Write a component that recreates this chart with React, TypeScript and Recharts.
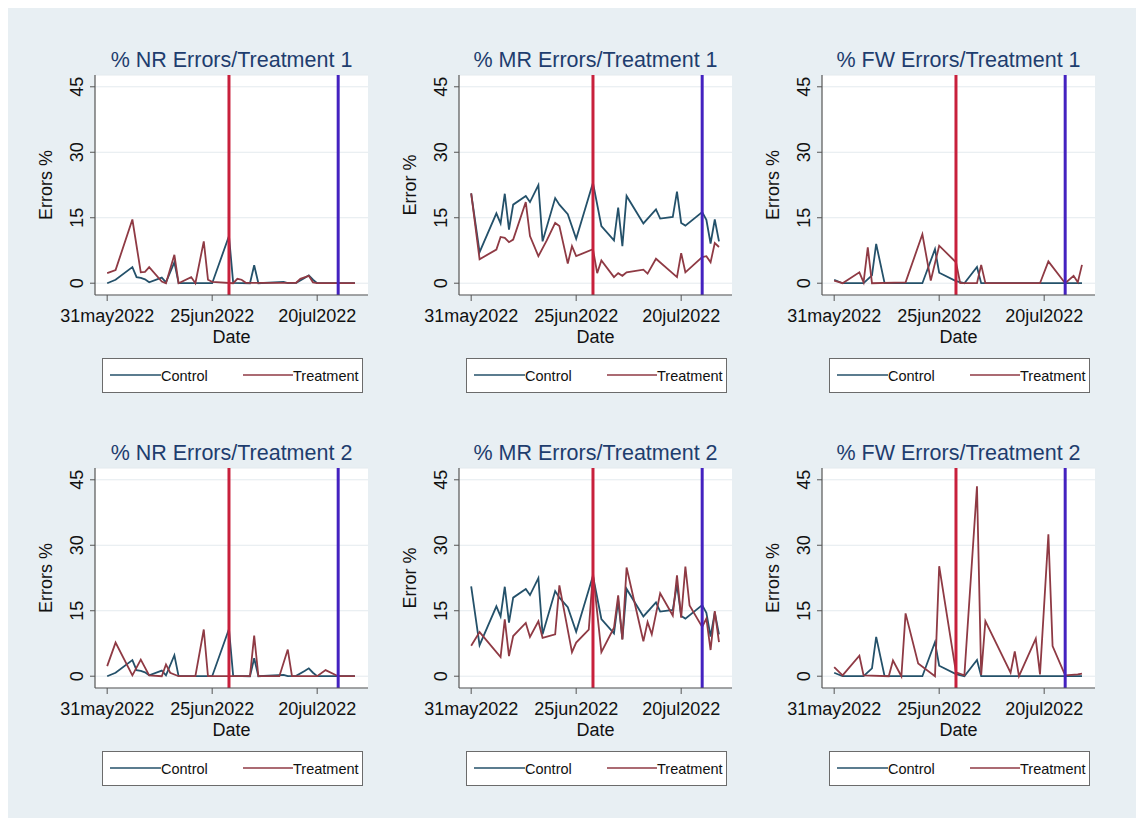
import React from 'react';
import { CartesianGrid, Legend, Line, LineChart, ReferenceLine, XAxis, YAxis } from 'recharts';

// days counted from 31may2022
const dateTicks = [0, 25, 50];
const dateLabels = ['31may2022', '25jun2022', '20jul2022'];
const errorTicks = [0, 15, 30, 45];
const treatmentStart = 29; // 29jun2022
const treatmentEnd = 55; // 25jul2022

// NR errors
const nrControlDays = [0, 2, 6, 7, 8, 9, 10, 13, 14, 16, 17, 25, 29, 30, 34, 35, 36, 42, 43, 45, 47, 48, 49, 50, 59];
const nrControlValues = [0, 0.8, 3.7, 1.4, 1.2, 0.9, 0.2, 1.3, 0.2, 4.8, 0, 0, 10.8, 0.1, 0, 4.1, 0, 0.3, 0, 0.1, 1.2, 1.8, 0.8, 0, 0];
const nrTreat1Days = [0, 2, 6, 8, 9, 10, 13, 14, 16, 17, 20, 21, 23, 24, 25, 30, 31, 32, 33, 45, 46, 48, 49, 50, 59];
const nrTreat1Values = [2.3, 3.0, 14.6, 2.5, 2.6, 3.7, 0.4, 0, 6.5, 0, 1.4, 0, 9.6, 0.8, 0.3, 0, 1, 0.8, 0.1, 0.1, 1, 1.7, 0.2, 0, 0];
const nrTreat2Days = [0, 2, 6, 8, 10, 13, 14, 15, 17, 21, 23, 24, 34, 35, 36, 41, 43, 44, 50, 52, 55, 59];
const nrTreat2Values = [2.3, 7.7, 0.2, 3.8, 0.2, 0, 2.7, 0.8, 0, 0, 10.7, 0, 0, 9.3, 0, 0, 6.1, 0, 0, 1.4, 0, 0];

// MR errors
const mrControlDays = [0, 2, 6, 7, 8, 9, 10, 13, 14, 16, 17, 20, 21, 23, 25, 29, 31, 34, 35, 36, 37, 41, 44, 45, 48, 49, 50, 51, 55, 56, 57, 58, 59];
const mrControlValues = [20.6, 7.1, 16, 13.7, 20.5, 12.3, 18, 20, 18.6, 22.5, 9.6, 19.5, 18, 15.8, 10.2, 23, 13.1, 9.8, 17.3, 8.5, 20, 13.7, 16.9, 14.8, 15.2, 21, 13.8, 13.2, 16.3, 14.5, 9.1, 14.6, 9.6];
const mrTreat1Days = [0, 2, 6, 7, 8, 9, 10, 13, 14, 16, 18, 20, 21, 23, 24, 25, 29, 30, 31, 34, 35, 36, 37, 41, 42, 44, 49, 50, 51, 55, 56, 57, 58, 59];
const mrTreat1Values = [20.6, 5.5, 7.7, 10.6, 10.4, 9.4, 10, 18.6, 10.8, 6.2, 9.8, 13.8, 13.1, 4.5, 8.5, 6.2, 7.8, 2.3, 5.2, 1.4, 2.3, 1.7, 2.5, 3.1, 2.2, 5.6, 1.4, 6.9, 2.5, 6, 6.2, 4.8, 9.2, 8.3];
const mrTreat2Days = [0, 2, 7, 8, 9, 10, 13, 14, 16, 17, 20, 21, 24, 25, 28, 29, 31, 34, 35, 36, 37, 41, 42, 43, 45, 48, 49, 50, 51, 52, 55, 56, 57, 58, 59];
const mrTreat2Values = [7, 10.1, 4.4, 13, 4.6, 9.2, 12.2, 9, 12.6, 8.8, 9.6, 20.8, 5.5, 7.7, 10.7, 23.7, 5.5, 11.1, 18.5, 8.4, 24.9, 8, 12.4, 9.6, 19, 13.9, 23.1, 13.4, 25.1, 16.2, 11.3, 13.2, 6, 14.9, 7.8];

// FW errors
const fwControlDays = [0, 2, 7, 9, 10, 12, 21, 24, 25, 29, 31, 34, 35, 59];
const fwControlValues = [0.8, 0, 0, 1.8, 9, 0, 0, 7.8, 2.4, 0.5, 0, 3.7, 0, 0];
const fwTreat1Days = [0, 2, 6, 7, 8, 9, 17, 21, 23, 25, 29, 30, 34, 35, 36, 49, 51, 55, 57, 58, 59];
const fwTreat1Values = [0.6, 0, 2.5, 0.2, 8.2, 0, 0.2, 11.2, 0.6, 8.6, 4.8, 0, 0, 4.2, 0, 0, 5, 0, 1.7, 0.2, 4.2];
const fwTreat2Days = [0, 2, 6, 7, 13, 14, 16, 17, 20, 24, 25, 29, 31, 34, 35, 36, 42, 43, 44, 48, 49, 51, 52, 55, 58, 59];
const fwTreat2Values = [2.1, 0.2, 4.7, 0.2, 0, 3.6, 0, 14.4, 2.9, 0, 25.2, 0.9, 0.2, 43.5, 0.3, 12.6, 0.8, 5.7, 0, 8.6, 0.4, 32.5, 6.9, 0.2, 0.4, 0.6];

const FONT = '"Liberation Sans", Arial, Helvetica, sans-serif';
const CONTROL = '#24516a';
const TREATMENT = '#8f3a44';

const toPoints = (days: number[], values: number[]) => days.map((day, i) => ({ day, value: values[i] }));

const panels = [
  { title: '% NR Errors/Treatment 1', yLabel: 'Errors %', control: toPoints(nrControlDays, nrControlValues), treatment: toPoints(nrTreat1Days, nrTreat1Values) },
  { title: '% MR Errors/Treatment 1', yLabel: 'Error %', control: toPoints(mrControlDays, mrControlValues), treatment: toPoints(mrTreat1Days, mrTreat1Values) },
  { title: '% FW Errors/Treatment 1', yLabel: 'Errors %', control: toPoints(fwControlDays, fwControlValues), treatment: toPoints(fwTreat1Days, fwTreat1Values) },
  { title: '% NR Errors/Treatment 2', yLabel: 'Errors %', control: toPoints(nrControlDays, nrControlValues), treatment: toPoints(nrTreat2Days, nrTreat2Values) },
  { title: '% MR Errors/Treatment 2', yLabel: 'Error %', control: toPoints(mrControlDays, mrControlValues), treatment: toPoints(mrTreat2Days, mrTreat2Values) },
  { title: '% FW Errors/Treatment 2', yLabel: 'Errors %', control: toPoints(fwControlDays, fwControlValues), treatment: toPoints(fwTreat2Days, fwTreat2Values) },
];

const colLeft = [12, 376, 739];
const rowTop = [12, 405];

function YTick({ x, y, payload }: any) {
  return (
    <text x={x} y={y} transform={`rotate(-90 ${x} ${y})`} textAnchor="middle" fontSize={18} fill="#111">
      {payload.value}
    </text>
  );
}

const yLabelContent = (text: string) => (props: any) => {
  const vb = props.viewBox || { x: 0, y: 55, width: 75, height: 220 };
  const cx = vb.x + 32;
  const cy = vb.y + vb.height / 2;
  return (
    <text x={cx} y={cy} transform={`rotate(-90 ${cx} ${cy})`} textAnchor="middle" fontSize={18} fill="#111">
      {text}
    </text>
  );
};

function LegendBox() {
  return (
    <div
      style={{
        boxSizing: 'border-box',
        width: 261,
        height: 35,
        border: '1.3px solid #6b6b6b',
        background: '#fff',
        fontFamily: FONT,
      }}
    >
      <svg width={259} height={33} style={{ display: 'block' }}>
        <line x1={7} x2={58} y1={16} y2={16} stroke={CONTROL} strokeWidth={1.4} />
        <text x={58} y={22} fontSize={14.5} fill="#111">Control</text>
        <line x1={140} x2={190} y1={16} y2={16} stroke={TREATMENT} strokeWidth={1.4} />
        <text x={190} y={22} fontSize={14.5} fill="#111">Treatment</text>
      </svg>
    </div>
  );
}

function Panel({ p, left, top }: any) {
  return (
    <div style={{ position: 'absolute', left, top, width: 363, height: 394 }}>
      <div
        style={{
          position: 'absolute',
          left: 75,
          top: 30,
          width: 273,
          textAlign: 'center',
          fontSize: 21.5,
          lineHeight: 1,
          color: '#1e3d6e',
          whiteSpace: 'nowrap',
        }}
      >
        {p.title}
      </div>
      <LineChart width={363} height={394} margin={{ top: 55, right: 15, bottom: 71, left: 0 }}>
        <CartesianGrid vertical={false} stroke="#e4eaee" fill="#fff" fillOpacity={1} />
        <XAxis
          dataKey="day"
          type="number"
          domain={[-2.9, 62.1]}
          allowDataOverflow
          ticks={dateTicks}
          tickFormatter={(v: number) => dateLabels[dateTicks.indexOf(v)]}
          height={48}
          tickSize={6}
          tickMargin={8}
          axisLine={{ stroke: '#555', strokeWidth: 1.2 }}
          tickLine={{ stroke: '#555' }}
          tick={{ fontSize: 18, fill: '#111' }}
          label={{ value: 'Date', position: 'insideBottom', offset: 0, fontSize: 18, fill: '#111' }}
        />
        <YAxis
          type="number"
          domain={[-2.7, 47.7]}
          allowDataOverflow
          ticks={errorTicks}
          width={75}
          tickSize={5}
          tickMargin={7}
          axisLine={{ stroke: '#555', strokeWidth: 1.2 }}
          tickLine={{ stroke: '#555' }}
          tick={<YTick />}
          label={{ content: yLabelContent(p.yLabel) }}
        />
        <Line data={p.control} dataKey="value" type="linear" stroke={CONTROL} strokeWidth={1.8} dot={false} isAnimationActive={false} />
        <Line data={p.treatment} dataKey="value" type="linear" stroke={TREATMENT} strokeWidth={1.8} dot={false} isAnimationActive={false} />
        <ReferenceLine x={treatmentStart} stroke="#c8203c" strokeWidth={3} />
        <ReferenceLine x={treatmentEnd} stroke="#4422c0" strokeWidth={3} />
        <Legend
          verticalAlign="middle"
          align="center"
          layout="horizontal"
          wrapperStyle={{ left: 82, top: 338, width: 261, height: 35 }}
          content={() => <LegendBox />}
        />
      </LineChart>
    </div>
  );
}

export default function App() {
  return (
    <div
      style={{
        position: 'relative',
        width: 1129,
        height: 810,
        background: '#e8eff3',
        fontFamily: FONT,
      }}
    >
      {panels.map((p, i) => (
        <Panel key={p.title} p={p} left={colLeft[i % 3]} top={rowTop[Math.floor(i / 3)]} />
      ))}
    </div>
  );
}
